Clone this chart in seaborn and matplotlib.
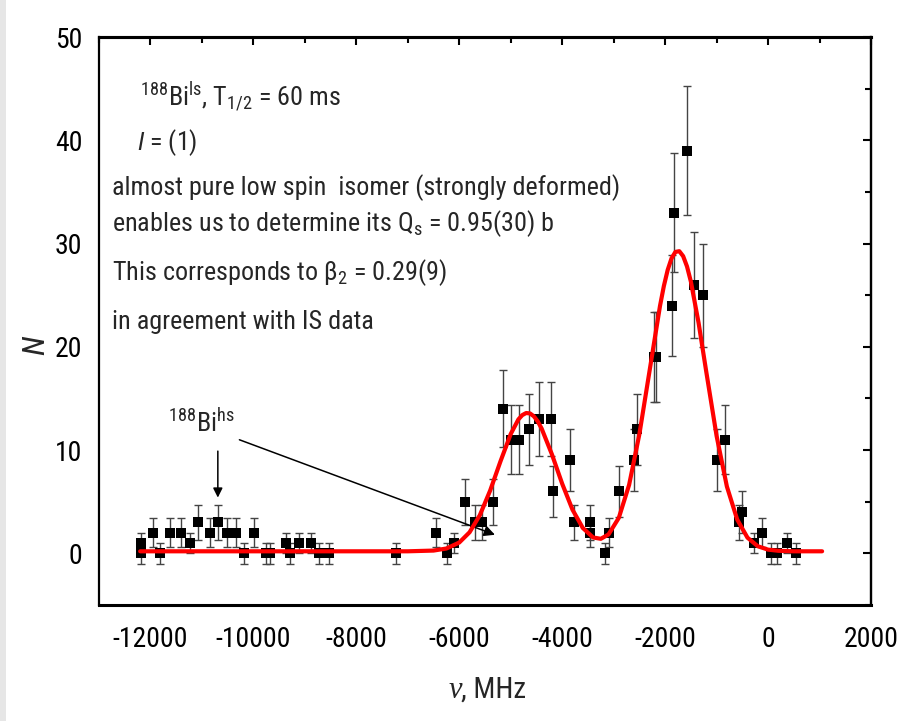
import numpy as np
import pandas as pd
import matplotlib
matplotlib.use('Agg')
import matplotlib.pyplot as plt
import seaborn as sns
from matplotlib.ticker import MultipleLocator
from matplotlib.patches import Rectangle

# ---- data ----
freq = [-12190, -12190, -11960, -11810, -11620, -11410, -11240, -11080, -10850, -10690,
        -10520, -10340, -10190, -9990, -9760, -9680, -9370, -9290, -9115, -8880,
        -8730, -8530,
        -7230, -6450, -6230, -6100, -5880, -5700, -5550, -5350, -5150, -5000,
        -4830, -4650, -4450, -4220, -4180, -3840, -3780, -3460, -3460, -3170,
        -3090, -2900, -2600, -2555, -2220, -2170, -1865, -1825, -1575, -1440,
        -1260, -1000, -840, -570, -505, -280, -120, 50, 180, 370, 535]
counts = [0, 1, 2, 0, 2, 2, 1, 3, 2, 3,
          2, 2, 0, 2, 0, 0, 1, 0, 1, 1,
          0, 0,
          0, 2, 0, 1, 5, 3, 3, 5, 14, 11,
          11, 12, 13, 13, 6, 9, 3, 3, 2, 0,
          2, 6, 9, 12, 19, 19, 24, 33, 39, 26,
          25, 9, 11, 3, 4, 1, 2, 0, 0, 1, 0]
count_err = [1.0, 1.0, 1.41, 1.0, 1.41, 1.41, 1.0, 1.73, 1.41, 1.73,
             1.41, 1.41, 1.0, 1.41, 1.0, 1.0, 1.0, 1.0, 1.0, 1.0,
             1.0, 1.0,
             1.0, 1.41, 1.0, 1.0, 2.24, 1.73, 1.73, 2.24, 3.74, 3.32,
             3.32, 3.46, 3.61, 3.61, 2.45, 3.0, 1.73, 1.73, 1.41, 1.0,
             1.41, 2.45, 3.0, 3.46, 4.36, 4.36, 4.9, 5.74, 6.24, 5.1,
             5.0, 3.0, 3.32, 1.73, 2.0, 1.0, 1.41, 1.0, 1.0, 1.0, 1.0]

fit_freq = [-12200, -8000, -7000, -6500, -6250, -6000, -5800, -5600, -5400, -5200,
            -5000, -4850, -4775, -4700, -4625, -4550, -4475, -4400, -4200, -4000,
            -3800, -3600, -3400, -3250, -3100, -2900, -2700, -2500, -2300, -2100,
            -2025, -1950, -1875, -1800, -1725, -1650, -1575, -1500, -1350, -1200,
            -1000, -800, -600, -400, -200, 0, 200, 500, 1050]
fit_counts = [0.2, 0.2, 0.2, 0.27, 0.47, 1.05, 2.04, 3.70, 6.08, 8.90,
              11.56, 12.98, 13.39, 13.59, 13.55, 13.27, 12.78, 12.09, 9.59, 6.74,
              4.23, 2.46, 1.54, 1.41, 1.83, 3.44, 6.63, 11.55, 17.75, 23.95,
              25.88, 27.45, 28.58, 29.19, 29.26, 28.78, 27.78, 26.32, 22.32, 17.56,
              11.37, 6.47, 3.28, 1.52, 0.69, 0.36, 0.25, 0.2, 0.2]

x_ticks = [-12000, -10000, -8000, -6000, -4000, -2000, 0, 2000]
y_ticks = [0, 10, 20, 30, 40, 50]

df = pd.DataFrame({'freq': freq, 'counts': counts, 'err': count_err})
fit = pd.DataFrame({'freq': fit_freq, 'counts': fit_counts})

# ---- style ----
sns.set_theme(style='white')
FONT = 'Roboto Condensed'
plt.rcParams['font.family'] = [FONT, 'Liberation Sans', 'DejaVu Sans']
plt.rcParams['mathtext.fontset'] = 'custom'
plt.rcParams['mathtext.rm'] = FONT
plt.rcParams['mathtext.it'] = FONT + ':italic'
plt.rcParams['mathtext.sf'] = FONT
plt.rcParams['mathtext.default'] = 'regular'

W, H = 905, 721
fig = plt.figure(figsize=(W / 100, H / 100), dpi=100)
fig.patch.set_facecolor('white')

def fx(px):
    return px / W

def fy(py):
    return 1 - py / H

# light shadow strip on the left edge
fig.patches.append(Rectangle((0, 0), 6 / W, 1, transform=fig.transFigure,
                             facecolor='#e6e6e6', edgecolor='none', zorder=0))

ax = fig.add_axes([fx(99), fy(605), (871 - 99) / W, (605 - 37) / H])
ax.set_facecolor('white')

ax.errorbar(df['freq'], df['counts'], yerr=df['err'], fmt='none',
            ecolor='#444444', elinewidth=1.0, capsize=3.2, capthick=1.0, zorder=2)
sns.scatterplot(data=df, x='freq', y='counts', marker='s', s=60, color='black',
                edgecolor='black', linewidth=0, ax=ax, zorder=3, legend=False)
sns.lineplot(data=fit, x='freq', y='counts', color='#ff0000', linewidth=3.0,
             sort=False, ax=ax, zorder=4, legend=False)

ax.set_xlim(-13000, 2000)
ax.set_ylim(-5, 50)
ax.set_xticks(x_ticks)
ax.set_yticks(y_ticks)
ax.set_xticklabels([str(t) for t in x_ticks])
ax.set_yticklabels([str(t) for t in y_ticks])
ax.xaxis.set_minor_locator(MultipleLocator(1000))
ax.yaxis.set_minor_locator(MultipleLocator(5))
ax.tick_params(axis='both', which='both', direction='out', top=False, right=False,
               color='black', labelsize=20, labelcolor='black')
ax.tick_params(axis='x', which='major', length=6, width=1.5, pad=9)
ax.tick_params(axis='x', which='minor', length=4.5, width=1.5)
ax.tick_params(axis='y', which='major', length=7, width=1.5, pad=5)
ax.tick_params(axis='y', which='minor', length=4, width=1.5)
ax.set_xlabel('')
ax.set_ylabel('')
for side in ['left', 'right', 'top', 'bottom']:
    ax.spines[side].set_visible(True)
    ax.spines[side].set_color('black')
    ax.spines[side].set_linewidth(1.6)
ax.spines['top'].set_linewidth(2.2)
ax.spines['bottom'].set_linewidth(2.2)

secx = ax.secondary_xaxis('top')
secx.set_xticks(x_ticks)
secx.xaxis.set_minor_locator(MultipleLocator(1000))
secx.tick_params(which='both', direction='in', labeltop=False, color='black', width=1.5)
secx.tick_params(which='major', length=6)
secx.tick_params(which='minor', length=4.5)
secx.spines['top'].set_linewidth(2.2)

secy = ax.secondary_yaxis('right')
secy.set_yticks(y_ticks)
secy.yaxis.set_minor_locator(MultipleLocator(5))
secy.tick_params(which='both', direction='in', labelright=False, color='black', width=1.5)
secy.tick_params(which='major', length=6)
secy.tick_params(which='minor', length=4.5)
secy.spines['right'].set_linewidth(1.6)

# axis labels
fig.text(fx(36), fy(345), 'N', rotation=90, style='italic', fontsize=23,
         ha='center', va='center')
fig.text(fx(462), fy(698), 'ν', family=['Liberation Serif', 'DejaVu Serif'],
         style='italic', fontsize=22, ha='right', va='baseline')
fig.text(fx(461), fy(698), ', MHz', fontsize=21, ha='left', va='baseline')

# annotations
TS = 18.8
fig.text(fx(140), fy(107), r'$^{188}$Bi$^{ls}$, T$_{1/2}$ = 60 ms', fontsize=TS, va='baseline')
fig.text(fx(137), fy(150), r'$\mathit{I}$ = (1)', fontsize=TS, va='baseline')
fig.text(fx(112), fy(195), 'almost pure low spin  isomer (strongly deformed)', fontsize=TS, va='baseline')
fig.text(fx(112), fy(231), r'enables us to determine its Q$_{s}$ = 0.95(30) b', fontsize=TS, va='baseline')
fig.text(fx(112), fy(280), r'This corresponds to $\beta_{2}$ = 0.29(9)', fontsize=TS, va='baseline')
fig.text(fx(112), fy(329), 'in agreement with IS data', fontsize=TS, va='baseline')
fig.text(fx(168), fy(432), r'$^{188}$Bi$^{hs}$', fontsize=TS, va='baseline')

ax.annotate('', xy=(-10691, 5.4), xytext=(-10691, 9.9),
            arrowprops=dict(arrowstyle='-|>', color='black', lw=1.1,
                            mutation_scale=14, shrinkA=0, shrinkB=0))
ax.annotate('', xy=(-5307, 1.8), xytext=(-10272, 11.0),
            arrowprops=dict(arrowstyle='-|>', color='black', lw=1.1,
                            mutation_scale=16, shrinkA=0, shrinkB=0))

fig.savefig('out.png', dpi=100, facecolor='white')
